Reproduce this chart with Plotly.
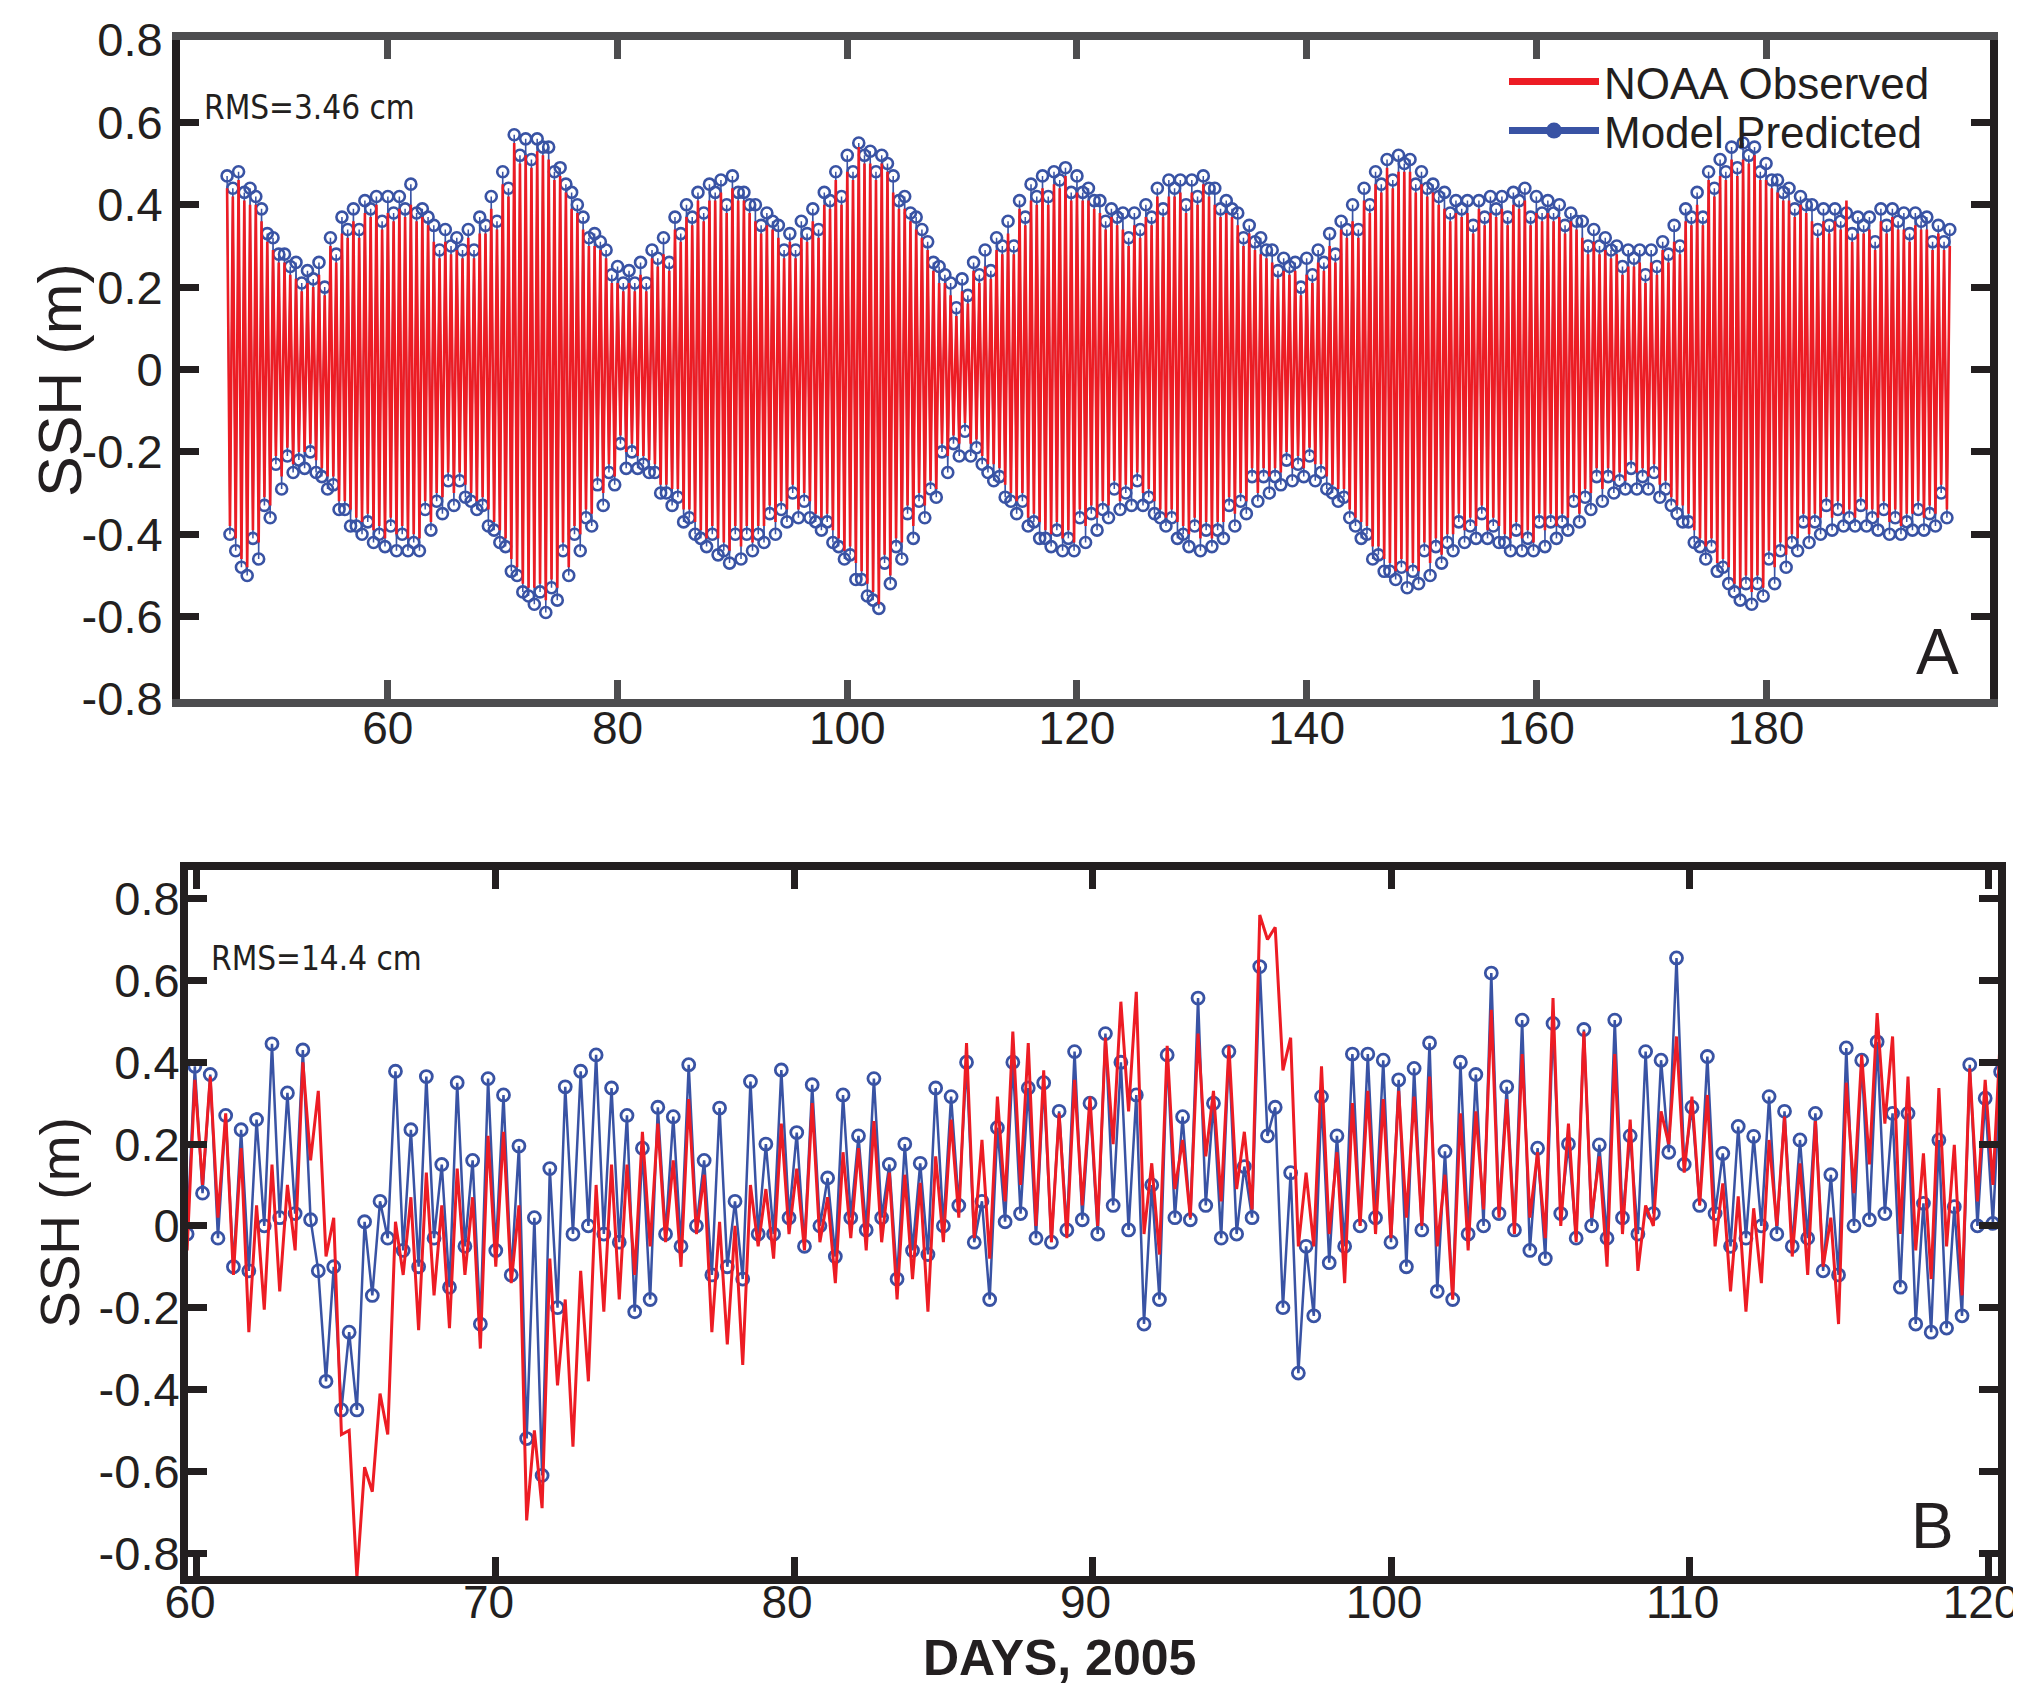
import plotly.graph_objects as go

# ---------------- data : panel A (tidal extremes, 4 per day, days 46-196) ----------------
A_T0 = 46.0      # first sample (day of 2005)
A_DT = 0.25      # spacing of successive extremes (days)

a_model_high = [
 .47,.44, .48,.43, .44,.42, .39,.33, .32,.28,
 .28,.25, .26,.21, .24,.22, .26,.20, .32,.28,
 .37,.34, .39,.34, .41,.39, .42,.36, .42,.38,
 .42,.39, .45,.38, .39,.37, .35,.29, .34,.30,
 .32,.29, .34,.29, .37,.35, .42,.36, .48,.44,
 .57,.52, .56,.51, .56,.54, .54,.48, .49,.45,
 .43,.40, .37,.32, .33,.31, .29,.23, .25,.21,
 .24,.21, .26,.21, .29,.27, .32,.26, .37,.33,
 .40,.37, .43,.38, .45,.43, .46,.40, .47,.43,
 .43,.40, .40,.35, .38,.36, .35,.29, .33,.29,
 .36,.33, .39,.34, .43,.41, .48,.42, .52,.48,
 .55,.52, .53,.48, .52,.50, .47,.41, .42,.38,
 .37,.34, .31,.26, .25,.23, .21,.15, .22,.18,
 .26,.23, .29,.24, .32,.30, .36,.30, .41,.37,
 .45,.42, .47,.42, .48,.46, .49,.43, .47,.43,
 .44,.41, .41,.36, .39,.37, .38,.32, .38,.34,
 .40,.37, .44,.39, .46,.44, .46,.40, .46,.42,
 .47,.44, .44,.39, .41,.39, .38,.32, .35,.31,
 .32,.29, .29,.24, .27,.25, .26,.20, .27,.23,
 .29,.26, .33,.28, .36,.34, .40,.34, .44,.40,
 .48,.45, .51,.46, .52,.50, .51,.45, .48,.44,
 .45,.42, .43,.38, .41,.39, .41,.35, .41,.37,
 .42,.39, .42,.37, .43,.41, .44,.37, .42,.38,
 .41,.38, .40,.35, .38,.36, .36,.30, .34,.30,
 .32,.29, .30,.25, .29,.27, .29,.23, .29,.25,
 .31,.28, .35,.30, .39,.37, .43,.37, .48,.44,
 .51,.48, .54,.49, .55,.52, .54,.48, .50,.46,
 .46,.43, .44,.39, .42,.40, .40,.34, .39,.35,
 .39,.36, .38,.33, .37,.35, .37,.31, .39,.35,
 .39,.36, .38,.33, .38,.36, .37,.31, .35,.31,
 .34]

a_model_low = [
 -.40,-.44, -.48,-.50, -.41,-.46, -.33,-.36, -.23,-.29,
 -.21,-.25, -.22,-.24, -.20,-.25, -.26,-.29, -.28,-.34,
 -.34,-.38, -.38,-.40, -.37,-.42, -.40,-.43, -.38,-.44,
 -.40,-.44, -.42,-.44, -.34,-.39, -.32,-.35, -.27,-.33,
 -.27,-.31, -.32,-.34, -.33,-.38, -.39,-.42, -.43,-.49,
 -.50,-.54, -.55,-.57, -.54,-.59, -.53,-.56, -.44,-.50,
 -.40,-.44, -.36,-.38, -.28,-.33, -.25,-.28, -.18,-.24,
 -.20,-.24, -.23,-.25, -.25,-.30, -.30,-.33, -.31,-.37,
 -.36,-.40, -.41,-.43, -.40,-.45, -.44,-.47, -.40,-.46,
 -.40,-.44, -.40,-.42, -.35,-.40, -.34,-.37, -.30,-.36,
 -.32,-.36, -.37,-.39, -.37,-.42, -.43,-.46, -.45,-.51,
 -.51,-.55, -.56,-.58, -.47,-.52, -.43,-.46, -.35,-.41,
 -.32,-.36, -.29,-.31, -.20,-.25, -.18,-.21, -.15,-.21,
 -.19,-.23, -.25,-.27, -.26,-.31, -.32,-.35, -.32,-.38,
 -.37,-.41, -.41,-.43, -.39,-.44, -.41,-.44, -.36,-.42,
 -.35,-.39, -.34,-.36, -.29,-.34, -.30,-.33, -.27,-.33,
 -.31,-.35, -.36,-.38, -.36,-.41, -.40,-.43, -.38,-.44,
 -.39,-.43, -.39,-.41, -.33,-.38, -.32,-.35, -.26,-.32,
 -.26,-.30, -.26,-.28, -.22,-.27, -.23,-.26, -.21,-.27,
 -.25,-.29, -.30,-.32, -.31,-.36, -.38,-.41, -.40,-.46,
 -.45,-.49, -.49,-.51, -.48,-.53, -.49,-.52, -.44,-.50,
 -.43,-.47, -.42,-.44, -.37,-.42, -.38,-.41, -.35,-.41,
 -.38,-.42, -.42,-.44, -.39,-.44, -.41,-.44, -.37,-.43,
 -.37,-.41, -.37,-.39, -.32,-.37, -.31,-.34, -.26,-.32,
 -.26,-.30, -.27,-.29, -.24,-.29, -.26,-.29, -.25,-.31,
 -.29,-.33, -.35,-.37, -.37,-.42, -.43,-.46, -.43,-.49,
 -.48,-.52, -.54,-.56, -.52,-.57, -.52,-.55, -.46,-.52,
 -.44,-.48, -.42,-.44, -.37,-.42, -.37,-.40, -.33,-.39,
 -.34,-.38, -.36,-.38, -.33,-.38, -.36,-.39, -.34,-.40,
 -.36,-.40, -.37,-.39, -.34,-.39, -.35,-.38, -.30,-.36]

a_obs_high = [
 .44,.42, .46,.41, .40,.40, .36,.31, .29,.26,
 .26,.23, .22,.19, .21,.20, .23,.18, .30,.26,
 .33,.32, .36,.32, .38,.37, .40,.34, .38,.36,
 .39,.37, .40,.36, .37,.35, .31,.27, .31,.28,
 .29,.27, .32,.27, .33,.33, .39,.34, .45,.42,
 .55,.50, .52,.49, .53,.52, .51,.46, .47,.43,
 .39,.38, .34,.30, .30,.29, .27,.21, .21,.19,
 .21,.19, .23,.19, .27,.25, .28,.24, .34,.31,
 .37,.35, .41,.36, .41,.41, .43,.38, .44,.41,
 .41,.38, .36,.33, .35,.34, .32,.27, .31,.27,
 .32,.31, .36,.32, .40,.39, .46,.40, .48,.46,
 .54,.50, .50,.46, .50,.48, .43,.39, .39,.36,
 .34,.32, .29,.24, .21,.21, .18,.13, .19,.16,
 .24,.21, .25,.22, .29,.28, .33,.28, .39,.35,
 .41,.40, .44,.40, .45,.44, .47,.41, .43,.41,
 .41,.39, .38,.34, .37,.35, .34,.30, .35,.32,
 .37,.35, .42,.37, .42,.42, .43,.38, .43,.40,
 .45,.42, .40,.37, .38,.37, .35,.30, .33,.29,
 .28,.27, .26,.22, .24,.23, .24,.18, .23,.21,
 .26,.24, .30,.26, .34,.32, .36,.32, .41,.38,
 .45,.43, .49,.44, .48,.48, .48,.43, .45,.42,
 .43,.40, .39,.36, .38,.37, .38,.33, .39,.35,
 .38,.37, .39,.35, .40,.39, .41,.35, .38,.36,
 .38,.36, .37,.33, .36,.34, .32,.28, .31,.28,
 .29,.27, .28,.23, .25,.25, .26,.21, .26,.23,
 .29,.26, .31,.28, .36,.35, .40,.35, .46,.42,
 .47,.46, .51,.47, .51,.50, .52,.46, .46,.44,
 .43,.41, .41,.37, .40,.38, .36,.32, .36,.33,
 .36,.34, .41,.31, .33,.33, .34,.29, .36,.33,
 .37,.34, .34,.31, .35,.34, .34,.29, .33,.29,
 .30]

a_obs_low = [
 -.38,-.41, -.46,-.48, -.39,-.42, -.31,-.33, -.21,-.26,
 -.19,-.23, -.20,-.20, -.18,-.22, -.24,-.26, -.26,-.32,
 -.32,-.34, -.36,-.37, -.35,-.39, -.38,-.41, -.36,-.40,
 -.38,-.41, -.40,-.41, -.32,-.37, -.30,-.31, -.25,-.30,
 -.25,-.28, -.30,-.32, -.31,-.34, -.37,-.39, -.41,-.46,
 -.48,-.52, -.53,-.53, -.52,-.56, -.51,-.53, -.42,-.48,
 -.38,-.40, -.34,-.35, -.26,-.30, -.23,-.26, -.16,-.20,
 -.18,-.21, -.21,-.22, -.23,-.28, -.28,-.29, -.29,-.34,
 -.34,-.37, -.39,-.41, -.38,-.41, -.42,-.44, -.38,-.43,
 -.38,-.42, -.38,-.38, -.33,-.37, -.32,-.34, -.28,-.34,
 -.30,-.32, -.35,-.36, -.35,-.39, -.41,-.44, -.43,-.47,
 -.49,-.52, -.54,-.57, -.45,-.50, -.41,-.42, -.33,-.38,
 -.30,-.33, -.27,-.29, -.18,-.21, -.16,-.18, -.13,-.18,
 -.17,-.21, -.23,-.23, -.24,-.28, -.30,-.32, -.30,-.36,
 -.35,-.37, -.39,-.40, -.37,-.41, -.39,-.42, -.34,-.38,
 -.33,-.36, -.32,-.33, -.27,-.32, -.28,-.29, -.25,-.30,
 -.29,-.32, -.34,-.36, -.34,-.37, -.38,-.40, -.36,-.41,
 -.37,-.41, -.37,-.37, -.31,-.35, -.30,-.32, -.24,-.30,
 -.24,-.26, -.24,-.25, -.20,-.24, -.21,-.24, -.19,-.23,
 -.23,-.26, -.28,-.29, -.29,-.34, -.36,-.37, -.38,-.43,
 -.43,-.46, -.47,-.49, -.46,-.49, -.47,-.49, -.42,-.47,
 -.41,-.45, -.40,-.40, -.35,-.39, -.36,-.38, -.33,-.39,
 -.36,-.38, -.40,-.41, -.37,-.41, -.39,-.42, -.35,-.39,
 -.35,-.38, -.35,-.36, -.30,-.35, -.29,-.30, -.24,-.29,
 -.24,-.27, -.25,-.27, -.22,-.25, -.24,-.26, -.23,-.28,
 -.27,-.31, -.33,-.33, -.35,-.39, -.41,-.43, -.41,-.47,
 -.46,-.48, -.52,-.53, -.50,-.54, -.50,-.53, -.44,-.48,
 -.42,-.45, -.40,-.41, -.35,-.40, -.35,-.36, -.31,-.36,
 -.32,-.35, -.34,-.36, -.31,-.34, -.34,-.36, -.32,-.37,
 -.34,-.38, -.35,-.35, -.32,-.36, -.33,-.35, -.28,-.34]

# ---------------- data : panel B (extremes every half M2 cycle, days 59.7-120.4) ----------------
B_T0 = 59.67     # first sample (a low water)
B_DT = 0.2585    # half of a semidiurnal (M2) cycle, days

b_model_low = [
 -0.02, 0.08, -0.03, -0.10, -0.11, 0.00, 0.02, 0.03, 0.015, -0.38,
 -0.45, -0.45, -0.17, -0.03, -0.06, -0.10, -0.03, -0.15, -0.05, -0.24,
 -0.06, -0.12, -0.52, -0.61, -0.20, -0.02, 0.00, -0.02, -0.04, -0.21,
 -0.18, -0.02, -0.05, 0.00, -0.12, -0.10, -0.13, -0.02, -0.02, 0.02,
 -0.05, 0.00, -0.075, 0.02, -0.01, 0.02, -0.13, -0.06, -0.07, 0.00,
 0.05, -0.04, -0.18, 0.01, 0.03, -0.03, -0.04, -0.01, 0.015, -0.02,
 0.05, -0.01, -0.24, -0.18, 0.02, 0.015, 0.05, -0.03, -0.02, 0.02,
 0.22, -0.20, -0.36, -0.22, -0.09, -0.05, 0.00, 0.02, -0.04, -0.10,
 -0.01, -0.16, -0.18, -0.02, 0.00, 0.03, -0.01, -0.06, -0.08, 0.03,
 -0.03, 0.00, -0.03, 0.02, -0.02, 0.03, 0.18, 0.15, 0.05, 0.03,
 -0.05, -0.03, 0.00, -0.02, -0.05, -0.03, -0.11, -0.12, 0.00, 0.015,
 0.03, -0.15, -0.24, -0.26, -0.25, -0.22, 0.00, 0.006]

b_model_high = [
 0.39, 0.37, 0.27, 0.235, 0.26, 0.445, 0.325, 0.43, -0.11, -0.10,
 -0.26, 0.01, 0.06, 0.378, 0.235, 0.365, 0.15, 0.35, 0.16, 0.36,
 0.32, 0.195, 0.02, 0.14, 0.34, 0.378, 0.418, 0.337, 0.27, 0.19,
 0.29, 0.267, 0.394, 0.16, 0.288, 0.06, 0.353, 0.20, 0.381, 0.228,
 0.345, 0.117, 0.32, 0.22, 0.36, 0.15, 0.20, 0.153, 0.337, 0.316,
 0.40, 0.06, 0.24, 0.40, 0.337, 0.35, 0.28, 0.426, 0.30, 0.47,
 0.40, 0.32, 0.10, 0.418, 0.267, 0.557, 0.30, 0.426, 0.145, 0.634,
 0.29, 0.13, -0.05, 0.316, 0.22, 0.42, 0.42, 0.405, 0.357, 0.385,
 0.447, 0.182, 0.40, 0.37, 0.618, 0.34, 0.503, 0.19, 0.495, 0.20,
 0.48, 0.198, 0.503, 0.22, 0.426, 0.405, 0.655, 0.29, 0.414, 0.177,
 0.243, 0.219, 0.316, 0.28, 0.21, 0.275, 0.125, 0.435, 0.405, 0.45,
 0.275, 0.275, 0.055, 0.21, 0.047, 0.394, 0.312, 0.377]

b_obs_low = [
 -0.06, 0.10, 0.02, -0.12, -0.26, -0.205, -0.16, -0.06, 0.16, -0.075,
 -0.51, -0.86, -0.65, -0.51, -0.12, -0.255, -0.17, -0.25, -0.12, -0.30,
 -0.10, -0.14, -0.72, -0.69, -0.39, -0.54, -0.38, -0.21, -0.18, -0.12,
 -0.05, -0.04, -0.10, -0.02, -0.26, -0.29, -0.34, -0.05, -0.08, -0.02,
 -0.06, -0.04, -0.14, -0.03, -0.06, -0.04, -0.18, -0.13, -0.21, -0.04,
 0.02, -0.03, -0.08, 0.06, 0.10, 0.00, -0.04, -0.03, 0.05, 0.00,
 0.20, 0.28, -0.02, -0.07, 0.09, 0.02, 0.17, 0.06, 0.09, 0.04,
 0.70, 0.38, -0.05, -0.05, -0.02, -0.14, 0.00, -0.02, -0.03, 0.02,
 0.00, -0.05, -0.18, -0.06, 0.04, 0.02, -0.02, 0.02, -0.03, 0.00,
 -0.04, 0.02, -0.10, -0.02, -0.11, 0.00, 0.20, 0.13, 0.05, -0.05,
 -0.16, -0.21, -0.14, 0.00, -0.075, -0.12, -0.10, -0.24, 0.08, 0.15,
 0.25, -0.02, -0.06, -0.13, -0.05, -0.17, 0.06, 0.10]

b_obs_high = [
 0.357, 0.365, 0.275, 0.19, 0.05, 0.15, 0.10, 0.40, 0.33, 0.02,
 -0.50, -0.59, -0.41, 0.01, 0.07, 0.13, 0.05, 0.14, 0.07, 0.22,
 0.23, 0.05, -0.50, -0.08, -0.18, -0.11, 0.10, 0.15, 0.15, 0.23,
 0.25, 0.16, 0.31, 0.125, 0.01, 0.00, 0.10, 0.09, 0.25, 0.14,
 0.30, 0.07, 0.18, 0.19, 0.256, 0.13, 0.125, 0.105, 0.17, 0.26,
 0.447, 0.21, 0.316, 0.475, 0.447, 0.38, 0.275, 0.357, 0.316, 0.46,
 0.548, 0.572, 0.153, 0.44, 0.21, 0.47, 0.33, 0.44, 0.23, 0.76,
 0.73, 0.46, 0.13, 0.39, 0.18, 0.30, 0.33, 0.31, 0.33, 0.316,
 0.365, 0.125, 0.275, 0.28, 0.528, 0.31, 0.42, 0.18, 0.557, 0.25,
 0.475, 0.17, 0.42, 0.26, 0.05, 0.28, 0.463, 0.316, 0.32, 0.104,
 0.072, 0.043, 0.21, 0.267, 0.153, 0.256, 0.02, 0.35, 0.418, 0.52,
 0.463, 0.365, 0.177, 0.337, 0.198, 0.385, 0.357, 0.475]

# ---------------- ticks / labels ----------------
a_xticks = [60, 80, 100, 120, 140, 160, 180]
b_xticks = [60, 70, 80, 90, 100, 110, 120]
y_ticks = [-0.8, -0.6, -0.4, -0.2, 0, 0.2, 0.4, 0.6, 0.8]
y_ticklabels = ["-0.8", "-0.6", "-0.4", "-0.2", "0", "0.2", "0.4", "0.6", "0.8"]
series_names = ["NOAA Observed", "Model Predicted"]
rms_a = "RMS=3.46 cm"
rms_b = "RMS=14.4 cm"
x_title = "DAYS, 2005"
y_title = "SSH (m)"


def interleave(first, second):
    out = []
    for i, v in enumerate(first):
        out.append(v)
        if i < len(second):
            out.append(second[i])
    return out


a_model = interleave(a_model_high, a_model_low)
a_obs = interleave(a_obs_high, a_obs_low)
a_t = [A_T0 + A_DT * k for k in range(len(a_model))]

b_model = interleave(b_model_low, b_model_high)
b_obs = interleave(b_obs_low, b_obs_high)
b_t = [B_T0 + B_DT * k for k in range(len(b_model))]

RED = "#ed1c24"
BLUE = "#3953a4"
BLACK = "#231f20"
GREY = "#4d4d4f"
FONT = "Liberation Sans, Arial, Helvetica, sans-serif"
NARROW = "DejaVu Sans Condensed, Liberation Sans Narrow, sans-serif"

# the page body adds an 8 px margin; the figure is sized so that it ends at the window edge
PAGE_W, PAGE_H, BODY = 2021, 1688, 8
W, H = PAGE_W - BODY, PAGE_H - BODY


def px_x(p):
    return (p - BODY) / W


def px_y(p):
    return 1 - (p - BODY) / H


fig = go.Figure()

# panel A
fig.add_trace(go.Scatter(
    x=a_t, y=a_model, mode="lines+markers", showlegend=False,
    line=dict(color=BLUE, width=1.5),
    marker=dict(symbol="circle-open", size=11, color=BLUE, line=dict(width=2.6, color=BLUE)),
    xaxis="x", yaxis="y"))
fig.add_trace(go.Scatter(
    x=a_t, y=a_obs, mode="lines", showlegend=False,
    line=dict(color=RED, width=2.6), xaxis="x", yaxis="y"))

# panel B
fig.add_trace(go.Scatter(
    x=b_t, y=b_model, mode="lines+markers", showlegend=False,
    line=dict(color=BLUE, width=2.5),
    marker=dict(symbol="circle-open", size=12, color=BLUE, line=dict(width=2.8, color=BLUE)),
    xaxis="x2", yaxis="y2"))
fig.add_trace(go.Scatter(
    x=b_t, y=b_obs, mode="lines", showlegend=False,
    line=dict(color=RED, width=3), xaxis="x2", yaxis="y2"))

# legend entries (one legend box per entry, to reproduce the tight row spacing)
fig.add_trace(go.Scatter(
    x=[None], y=[None], mode="lines", name=series_names[0], legend="legend",
    line=dict(color=RED, width=7), xaxis="x", yaxis="y"))
fig.add_trace(go.Scatter(
    x=[None], y=[None], mode="lines+markers", name=series_names[1], legend="legend2",
    line=dict(color=BLUE, width=7), marker=dict(symbol="circle", size=16, color=BLUE),
    xaxis="x", yaxis="y"))

common_axis = dict(showgrid=False, zeroline=False, showline=True, linewidth=8,
                   ticks="inside", ticklen=19, tickwidth=7, mirror="ticks",
                   automargin=False)

legend_common = dict(xanchor="left", yanchor="middle", bgcolor="rgba(0,0,0,0)",
                     font=dict(size=44, family=FONT, color=BLACK),
                     itemwidth=90, borderwidth=0)

fig.update_layout(
    width=W, height=H,
    margin=dict(l=0, r=0, t=0, b=0, autoexpand=False),
    paper_bgcolor="white", plot_bgcolor="white",
    font=dict(family=FONT, color=BLACK),
    showlegend=True,
    legend=dict(x=px_x(1504), y=px_y(82), **legend_common),
    legend2=dict(x=px_x(1504), y=px_y(131), **legend_common),
    xaxis=dict(domain=[px_x(180), px_x(1990)], range=[41.9, 199.5],
               tickvals=a_xticks, ticktext=[str(v) for v in a_xticks],
               linecolor=GREY, tickcolor=GREY, tickfont=dict(size=46, color=BLACK),
               ticklabelstandoff=-18, ticklabeloverflow="allow",
               anchor="y", **common_axis),
    yaxis=dict(domain=[px_y(699), px_y(40)], range=[-0.8, 0.8],
               tickvals=y_ticks, ticktext=y_ticklabels,
               linecolor=BLACK, tickcolor=BLACK, tickfont=dict(size=47, color=BLACK),
               anchor="x", **common_axis),
    xaxis2=dict(domain=[px_x(188), px_x(1998)], range=[59.70, 120.33],
                tickvals=b_xticks, ticktext=[str(v) for v in b_xticks],
                linecolor=BLACK, tickcolor=BLACK, tickfont=dict(size=46, color=BLACK),
                ticklabelstandoff=-21, ticklabelshift=-7, ticklabeloverflow="allow",
                anchor="y2", **common_axis),
    yaxis2=dict(domain=[px_y(1576), px_y(870)], range=[-0.856, 0.870],
                tickvals=y_ticks, ticktext=y_ticklabels,
                linecolor=BLACK, tickcolor=BLACK, tickfont=dict(size=47, color=BLACK),
                ticklabelstandoff=-9, anchor="x2", **common_axis),
    annotations=[
        dict(text=y_title, x=px_x(60), y=px_y(380), xref="paper", yref="paper",
             textangle=-90, showarrow=False, xanchor="center", yanchor="middle",
             font=dict(family=FONT, size=61, color=BLACK)),
        dict(text=y_title, x=px_x(60), y=px_y(1223), xref="paper", yref="paper",
             textangle=-90, showarrow=False, xanchor="center", yanchor="middle",
             font=dict(family=FONT, size=55, color=BLACK)),
        dict(text=x_title, x=px_x(1059), y=px_y(1658), xref="paper", yref="paper",
             showarrow=False, xanchor="center", yanchor="middle",
             font=dict(family=FONT, size=50, color=BLACK, weight="bold")),
        dict(text=rms_a, x=px_x(309), y=px_y(107), xref="paper", yref="paper",
             showarrow=False, xanchor="center", yanchor="middle",
             font=dict(family=NARROW, size=33, color=BLACK)),
        dict(text=rms_b, x=px_x(316), y=px_y(958), xref="paper", yref="paper",
             showarrow=False, xanchor="center", yanchor="middle",
             font=dict(family=NARROW, size=33, color=BLACK)),
        dict(text="A", x=px_x(1937), y=px_y(652), xref="paper", yref="paper",
             showarrow=False, xanchor="center", yanchor="middle",
             font=dict(family=FONT, size=64, color=BLACK)),
        dict(text="B", x=px_x(1932), y=px_y(1526), xref="paper", yref="paper",
             showarrow=False, xanchor="center", yanchor="middle",
             font=dict(family=FONT, size=64, color=BLACK)),
    ],
)

fig.write_html("out.html")
